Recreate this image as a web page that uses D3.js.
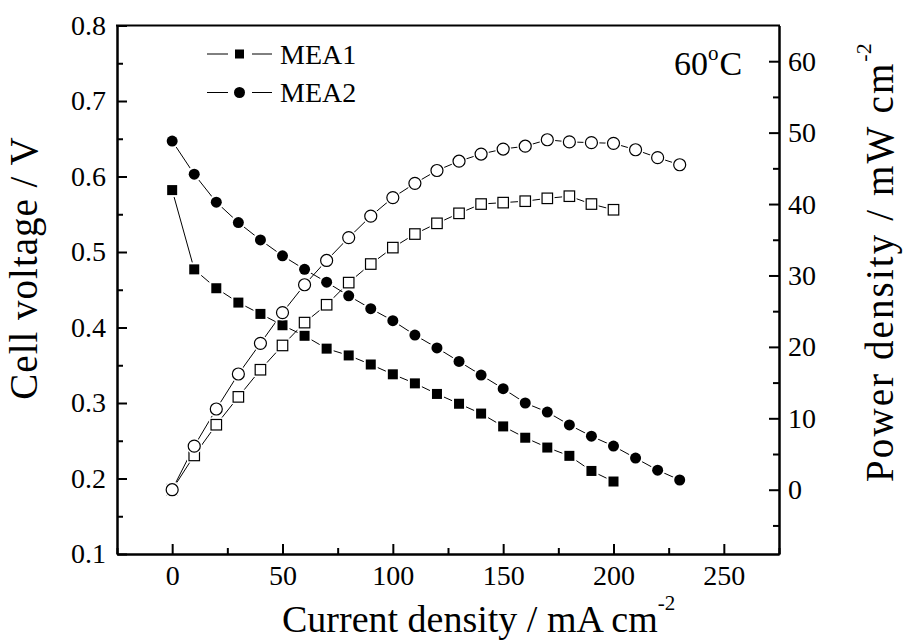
<!DOCTYPE html>
<html>
<head>
<meta charset="utf-8">
<script src="https://cdn.jsdelivr.net/npm/d3@7"></script>
<style>
  body { margin: 0; background: #fff; }
  text { font-family: "Liberation Serif", "Times New Roman", serif; fill: #000; }
</style>
</head>
<body>
<svg id="chart"></svg>
<script>
let current1 = [0, 10, 20, 30, 40, 50, 60, 70, 80, 90, 100, 110, 120, 130, 140, 150, 160, 170, 180, 190, 200]
let voltage1 = [0.582, 0.477, 0.452, 0.433, 0.418, 0.403, 0.389, 0.372, 0.363, 0.351, 0.338, 0.326, 0.312, 0.299, 0.286, 0.269, 0.254, 0.241, 0.230, 0.210, 0.196]
let power1 = [0, 4.8, 9.1, 13.0, 16.8, 20.2, 23.4, 25.9, 29.0, 31.6, 33.9, 35.8, 37.3, 38.7, 40.0, 40.2, 40.4, 40.8, 41.1, 40.0, 39.2]

let current2 = [0, 10, 20, 30, 40, 50, 60, 70, 80, 90, 100, 110, 120, 130, 140, 150, 160, 170, 180, 190, 200, 210, 220, 230]
let voltage2 = [0.647, 0.603, 0.566, 0.539, 0.516, 0.495, 0.477, 0.460, 0.442, 0.425, 0.409, 0.390, 0.373, 0.355, 0.337, 0.319, 0.300, 0.288, 0.271, 0.256, 0.243, 0.227, 0.211, 0.198]
let power2 = [0, 6.1, 11.3, 16.2, 20.5, 24.8, 28.7, 32.1, 35.3, 38.3, 40.9, 42.9, 44.7, 46.0, 47.0, 47.7, 48.1, 49.0, 48.7, 48.6, 48.5, 47.6, 46.5, 45.5]

let xTicks = [0, 50, 100, 150, 200, 250]
let xMinor = [-25, 25, 75, 125, 175, 225, 275]
let vTicks = [0.1, 0.2, 0.3, 0.4, 0.5, 0.6, 0.7, 0.8]
let vMinor = [0.15, 0.25, 0.35, 0.45, 0.55, 0.65, 0.75]
let pTicks = [0, 10, 20, 30, 40, 50, 60]
let pMinor = [-5, 5, 15, 25, 35, 45, 55]
let legendNames = ["MEA1", "MEA2"]

let width = 903
let height = 643
let plotLeft = 117, plotRight = 779, plotTop = 25.5, plotBottom = 554

let svg = d3.select('#chart').attr('width', width).attr('height', height)

let xScale = d3.scaleLinear().domain([-25, 275]).range([plotLeft, plotRight])
let vScale = d3.scaleLinear().domain([0.1, 0.8]).range([plotBottom, plotTop])
let pScale = d3.scaleLinear().domain([-9, 65]).range([plotBottom, plotTop])

let series = [
  { x: current1, y: voltage1, scale: vScale, shape: 'square', fill: '#000' },
  { x: current2, y: voltage2, scale: vScale, shape: 'circle', fill: '#000' },
  { x: current1, y: power1, scale: pScale, shape: 'square', fill: '#fff' },
  { x: current2, y: power2, scale: pScale, shape: 'circle', fill: '#fff' },
]

let lineLayer = svg.append('g')
let markLayer = svg.append('g')

series.forEach(s => {
  let pts = s.x.map((d, i) => [d, s.y[i]])
  let line = d3.line().x(d => xScale(d[0])).y(d => s.scale(d[1]))
  lineLayer.append('path')
    .attr('d', line(pts))
    .attr('fill', 'none')
    .attr('stroke', '#000')
    .attr('stroke-width', 1)
})

// markers, each with a white halo so the line stops short of it
series.forEach(s => {
  let pts = s.x.map((d, i) => [d, s.y[i]])
  let g = markLayer.append('g')
  let open = s.fill === '#fff'
  pts.forEach(p => {
    let cx = xScale(p[0]), cy = s.scale(p[1])
    if (s.shape === 'square') {
      let a = open ? 10.5 : 10
      g.append('rect').attr('x', cx - a / 2 - 2).attr('y', cy - a / 2 - 2)
        .attr('width', a + 4).attr('height', a + 4).attr('fill', '#fff')
      g.append('rect').attr('x', cx - a / 2).attr('y', cy - a / 2)
        .attr('width', a).attr('height', a)
        .attr('fill', s.fill).attr('stroke', '#000').attr('stroke-width', open ? 1.2 : 0)
    } else {
      let r = open ? 6 : 5.5
      g.append('circle').attr('cx', cx).attr('cy', cy).attr('r', r + 2).attr('fill', '#fff')
      g.append('circle').attr('cx', cx).attr('cy', cy).attr('r', r)
        .attr('fill', s.fill).attr('stroke', '#000').attr('stroke-width', open ? 1.2 : 0)
    }
  })
})

let styleAxis = (g) => {
  g.attr('font-family', null)
  g.selectAll('path').attr('stroke', '#000').attr('stroke-width', 2)
  g.selectAll('line').attr('stroke', '#000').attr('stroke-width', 2)
  g.selectAll('text').style('font-size', '28px').style('font-family', '"Liberation Serif", serif')
}

let xAxis = d3.axisBottom(xScale).tickValues(xTicks).tickSizeInner(-10).tickSizeOuter(0).tickPadding(11)
svg.append('g').attr('transform', 'translate(0,' + plotBottom + ')').call(xAxis).call(styleAxis)
svg.append('g').attr('transform', 'translate(0,' + plotBottom + ')')
  .call(d3.axisBottom(xScale).tickValues(xMinor).tickSizeInner(-6).tickSizeOuter(0).tickFormat(''))
  .call(styleAxis)

let vAxis = d3.axisLeft(vScale).tickValues(vTicks).tickSizeInner(-10).tickSizeOuter(0).tickPadding(11).tickFormat(d3.format('.1f'))
svg.append('g').attr('transform', 'translate(' + plotLeft + ',0)').call(vAxis).call(styleAxis)
svg.append('g').attr('transform', 'translate(' + plotLeft + ',0)')
  .call(d3.axisLeft(vScale).tickValues(vMinor).tickSizeInner(-6).tickSizeOuter(0).tickFormat(''))
  .call(styleAxis)

let pAxis = d3.axisRight(pScale).tickValues(pTicks).tickSizeInner(-10).tickSizeOuter(0).tickPadding(9)
svg.append('g').attr('transform', 'translate(' + plotRight + ',0)').call(pAxis).call(styleAxis)
svg.append('g').attr('transform', 'translate(' + plotRight + ',0)')
  .call(d3.axisRight(pScale).tickValues(pMinor).tickSizeInner(-6).tickSizeOuter(0).tickFormat(''))
  .call(styleAxis)

// top frame line
svg.append('line').attr('x1', plotLeft - 1).attr('x2', plotRight + 1).attr('y1', plotTop).attr('y2', plotTop)
  .attr('stroke', '#000').attr('stroke-width', 2)

// axis titles
let xTitle = svg.append('text').attr('x', 282).attr('y', 632).style('font-size', '38px')
xTitle.append('tspan').text('Current density / mA cm')
xTitle.append('tspan').attr('dy', -22).style('font-size', '21px').text('-2')

svg.append('text')
  .attr('transform', 'translate(37,268) rotate(-90)')
  .attr('text-anchor', 'middle')
  .style('font-size', '39px')
  .style('letter-spacing', '1px')
  .text('Cell voltage / V')

let pTitle = svg.append('text')
  .attr('transform', 'translate(893,482) rotate(-90)')
  .style('font-size', '39px')
pTitle.append('tspan').style('letter-spacing', '2.1px').text('Power density / mW cm')
pTitle.append('tspan').attr('dy', -22).style('font-size', '22px').text('-2')

// temperature label
let tLabel = svg.append('text').attr('x', 674).attr('y', 75).style('font-size', '34px')
tLabel.append('tspan').text('60')
tLabel.append('tspan').attr('dy', -15).style('font-size', '21px').text('o')
tLabel.append('tspan').attr('dy', 15).attr('dx', 1).text('C')

// legend
let legendY = [54, 92.5]
let legendShapes = ['square', 'circle']
legendNames.forEach((name, i) => {
  let g = svg.append('g')
  let y = legendY[i]
  g.append('line').attr('x1', 207).attr('x2', 228).attr('y1', y).attr('y2', y).attr('stroke', '#000').attr('stroke-width', 1)
  g.append('line').attr('x1', 252).attr('x2', 272).attr('y1', y).attr('y2', y).attr('stroke', '#000').attr('stroke-width', 1)
  if (legendShapes[i] === 'square') {
    g.append('rect').attr('x', 239.5 - 4.5).attr('y', y - 4.5).attr('width', 9).attr('height', 9).attr('fill', '#000')
  } else {
    g.append('circle').attr('cx', 239.5).attr('cy', y).attr('r', 5.5).attr('fill', '#000')
  }
  g.append('text').attr('x', 280).attr('y', y + 9.5).style('font-size', '28px').text(name)
})
</script>
</body>
</html>
